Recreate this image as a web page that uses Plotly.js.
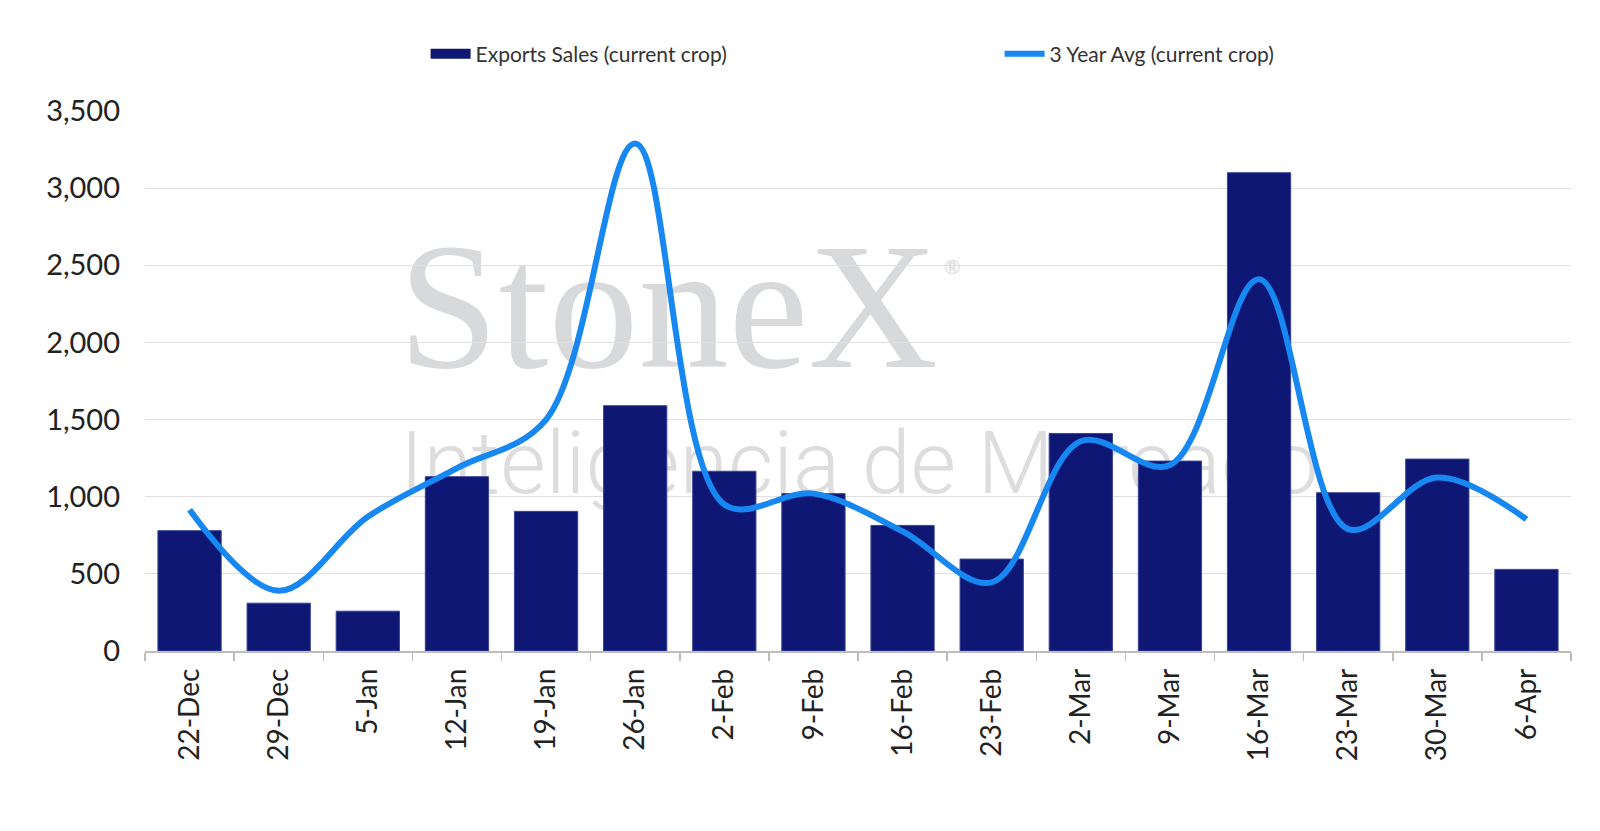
<!DOCTYPE html>
<html>
<head>
<meta charset="utf-8">
<script src="https://cdn.plot.ly/plotly-3.0.1.min.js"></script>
<style>html,body{margin:0;padding:0;background:#fff;}#chart{width:1600px;height:831px;}</style>
</head>
<body>
<div id="chart"></div>
<script>
const categories = ["22-Dec","29-Dec","5-Jan","12-Jan","19-Jan","26-Jan","2-Feb","9-Feb","16-Feb","23-Feb","2-Mar","9-Mar","16-Mar","23-Mar","30-Mar","6-Apr"];
const exportSales = [780, 310, 258, 1130, 905, 1590, 1165, 1020, 814, 596, 1410, 1231, 3100, 1026, 1244, 529];
const threeYearAvg = [915, 390, 870, 1185, 1500, 3290, 950, 1020, 775, 445, 1360, 1205, 2410, 790, 1125, 854];
const yTicks = [0, 500, 1000, 1500, 2000, 2500, 3000, 3500];
const seriesNames = ['Exports Sales (current crop)', '3 Year Avg (current crop)'];
const barColor = '#0e1874';
const lineColor = '#1787f2';

const traces = [
  {
    type: 'bar', x: categories, y: exportSales, name: seriesNames[0], showlegend: false,
    marker: {color: barColor, line: {color: '#3a4596', width: 1}}
  },
  {
    // legend key only (wide rectangle swatch like the original)
    type: 'scatter', mode: 'lines', x: [null], y: [null], name: seriesNames[0],
    line: {color: barColor, width: 12}, hoverinfo: 'skip'
  },
  {
    type: 'scatter', mode: 'lines', x: categories, y: threeYearAvg, name: seriesNames[1],
    line: {color: lineColor, width: 6, shape: 'spline', smoothing: 1.0}
  }
];

const layout = {
  width: 1600, height: 831,
  margin: {l: 145, r: 29, t: 111, b: 180},
  paper_bgcolor: '#ffffff', plot_bgcolor: '#ffffff',
  font: {family: 'Lato, "Noto Sans", sans-serif', color: '#222222'},
  bargap: 0.29,
  showlegend: true,
  legend: {
    orientation: 'h', xref: 'container', yref: 'container',
    x: 0.266, xanchor: 'left', y: 1 - 54/831, yanchor: 'middle',
    font: {size: 21, color: '#333333'},
    entrywidth: 519, entrywidthmode: 'pixels', traceorder: 'normal',
    itemwidth: 40
  },
  xaxis: {
    type: 'category', tickangle: -90, tickfont: {size: 28, color: '#222'},
    showline: true, linecolor: '#bdbdbd', linewidth: 1.5,
    ticks: 'outside', tickson: 'boundaries', ticklen: 8, tickcolor: '#bdbdbd', tickwidth: 1.5,
    ticklabelstandoff: 5,
    showgrid: false, fixedrange: true
  },
  yaxis: {
    range: [0, 3500], tickvals: yTicks, tickformat: ',', tickfont: {size: 29, color: '#222'},
    showgrid: true, gridcolor: '#e0e0e0', gridwidth: 1.2, zeroline: false, showline: false,
    ticks: '', ticklen: 0, ticklabelstandoff: 24, fixedrange: true
  },
  shapes: [
    {
      type: 'rect', xref: 'paper', yref: 'paper', x0: 0.162, x1: 0.572, y0: 0.545, y1: 0.805,
      layer: 'below', line: {width: 0}, fillcolor: 'rgba(0,0,0,0)',
      label: {text: 'StoneX', textposition: 'middle center',
        font: {family: '"Liberation Serif", "DejaVu Serif", serif', size: 180, color: '#d8d9db'}}
    },
    {
      type: 'rect', xref: 'paper', yref: 'paper', x0: 0.17, x1: 0.832, y0: 0.25, y1: 0.47,
      layer: 'below', line: {width: 0}, fillcolor: 'rgba(0,0,0,0)',
      label: {text: 'Inteligencia de Mercado', textposition: 'middle center',
        font: {family: 'Roboto, "Noto Sans", sans-serif', size: 88, color: '#dddddd', weight: 300}}
    }
  ],
  annotations: [
    {xref: 'paper', yref: 'paper', x: 0.566, y: 0.739, text: '®', showarrow: false,
     font: {size: 20, color: '#d8d9db'}}
  ]
};

Plotly.newPlot('chart', traces, layout, {displayModeBar: false, staticPlot: true});
</script>
</body>
</html>
